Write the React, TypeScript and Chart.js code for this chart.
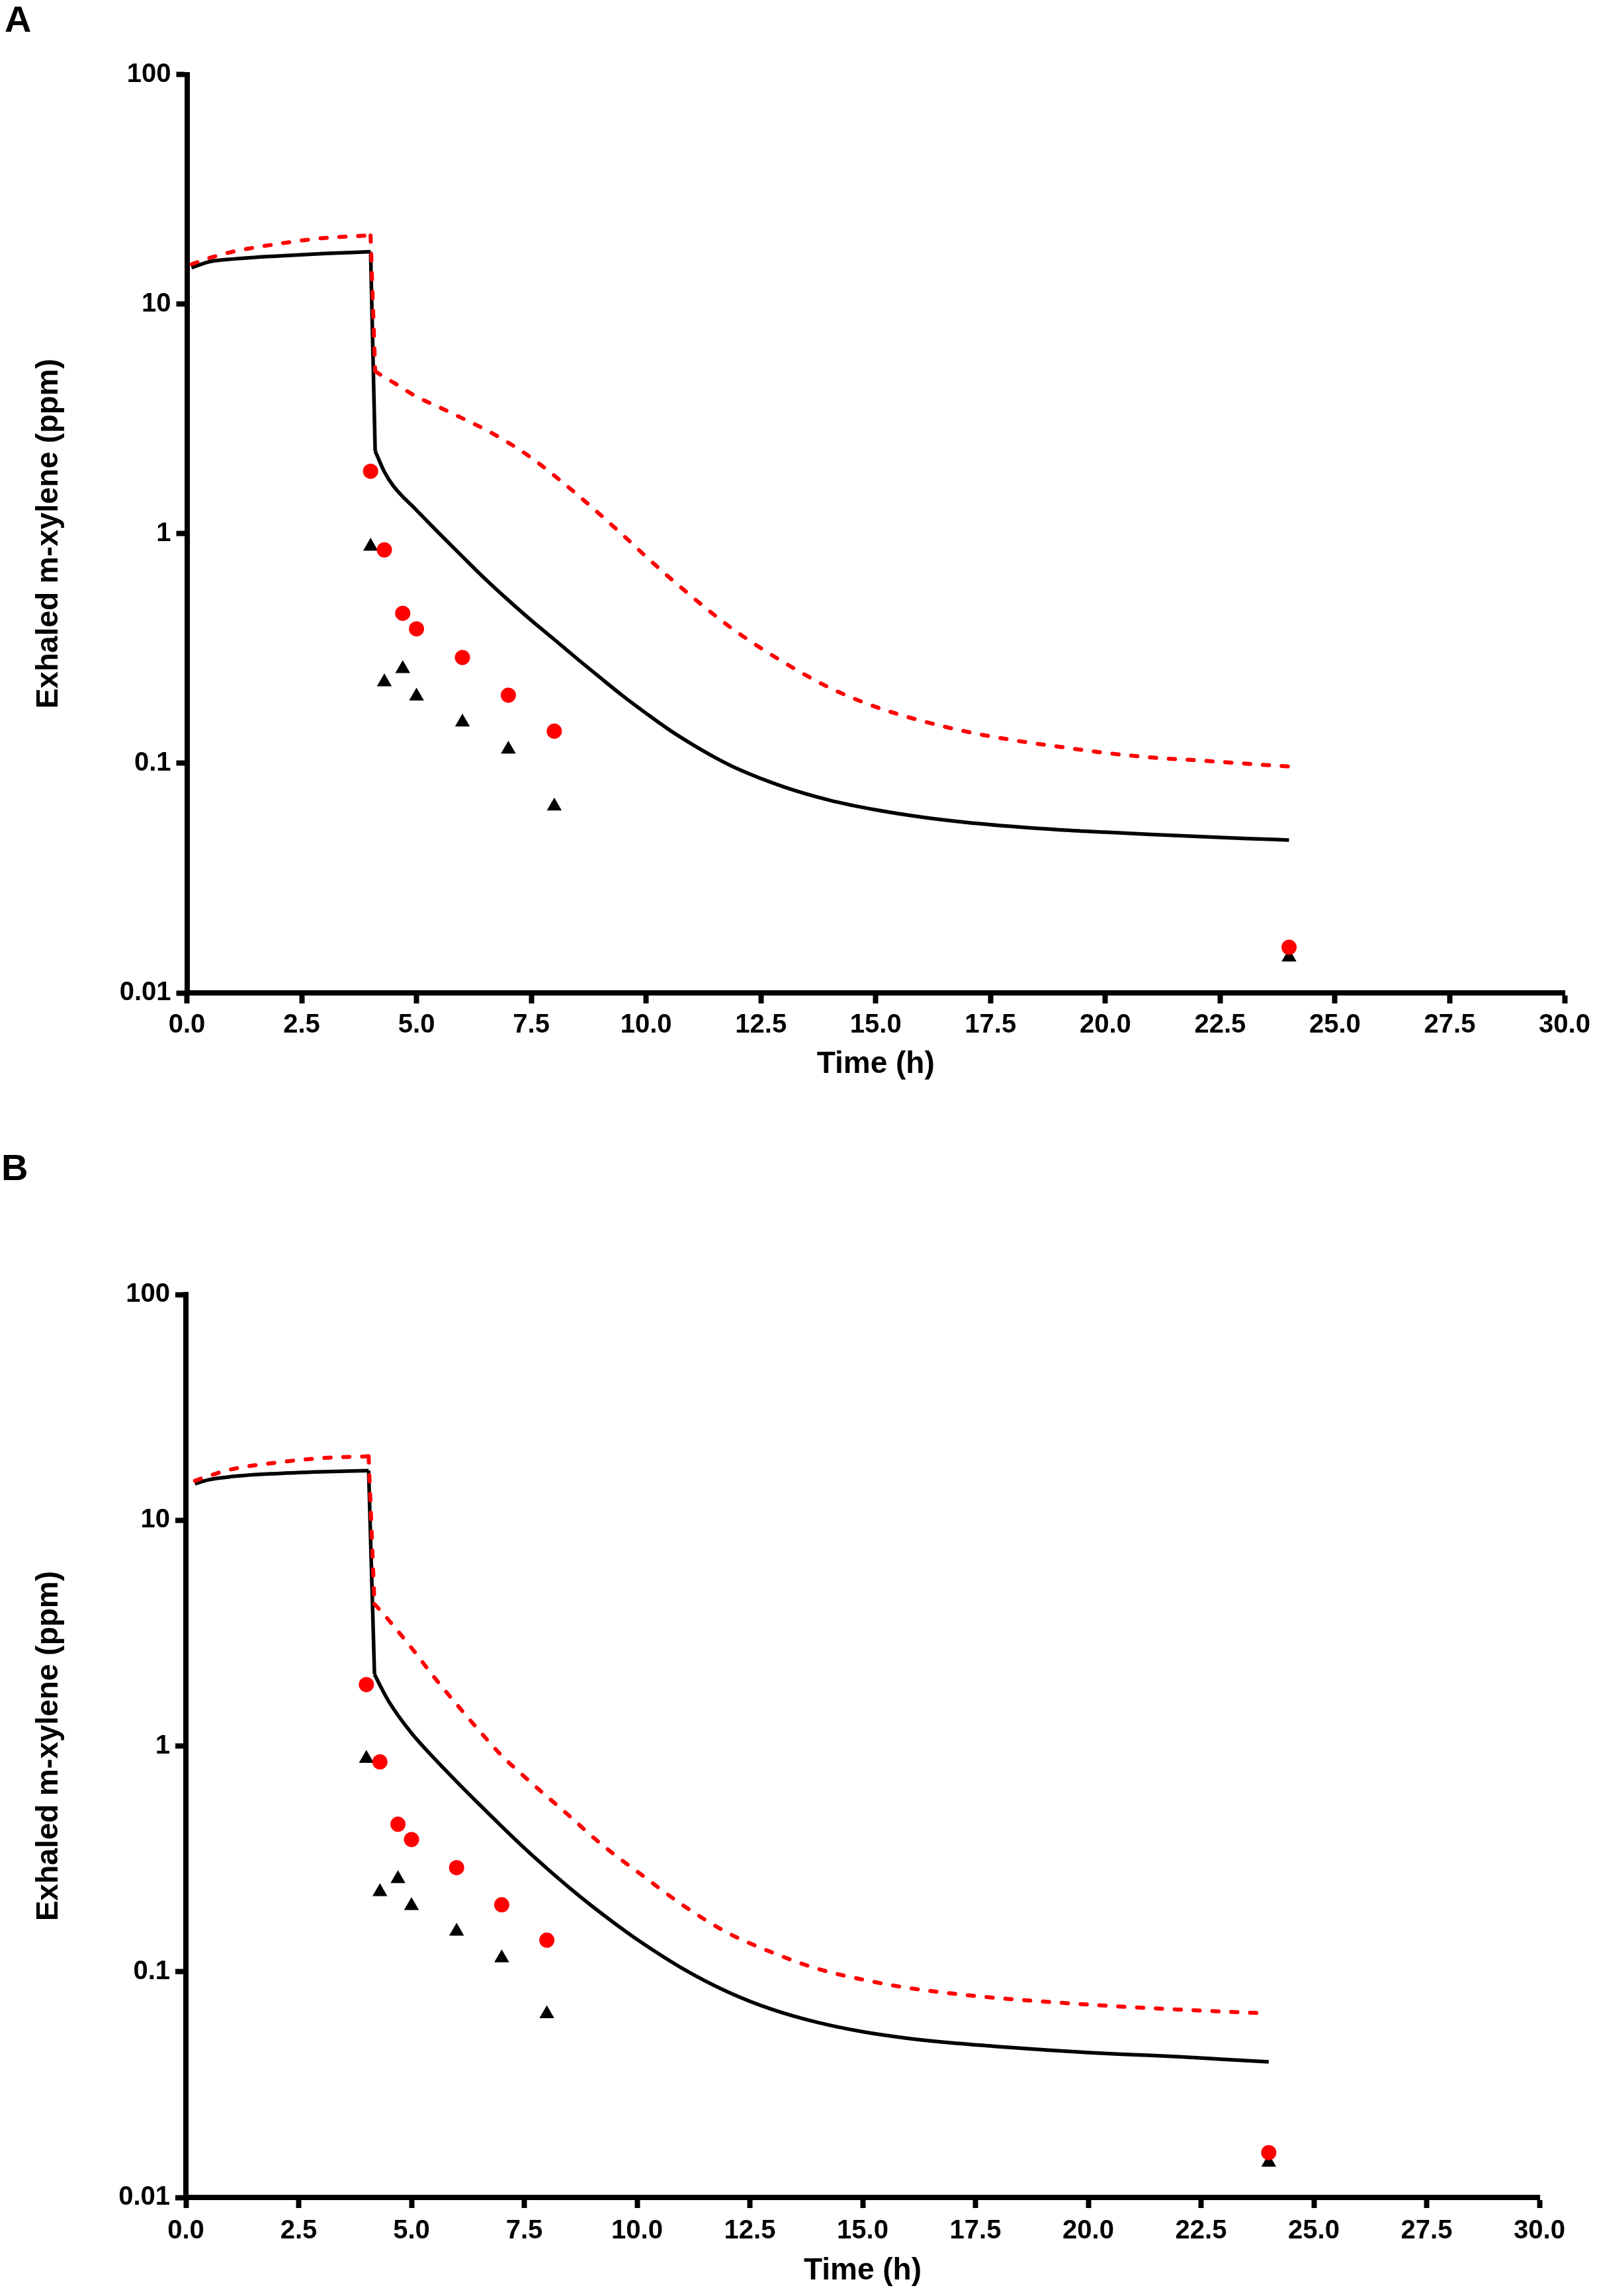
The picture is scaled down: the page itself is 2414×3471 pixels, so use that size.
import { useEffect, useRef } from 'react';
import { Chart, registerables } from 'chart.js';

Chart.register(...registerables);

const FONT = "'Liberation Sans', Arial, Helvetica, sans-serif";
const RED = '#ff0000';
const BLACK = '#000000';

// axis ticks
const Y_TICKS = [0.01, 0.1, 1, 10, 100];
const Y_TICK_LABELS = ['0.01', '0.1', '1', '10', '100'];
const X_TICKS = [0, 2.5, 5, 7.5, 10, 12.5, 15, 17.5, 20, 22.5, 25, 27.5, 30];
const X_TICK_LABELS = ['0.0', '2.5', '5.0', '7.5', '10.0', '12.5', '15.0', '17.5', '20.0', '22.5', '25.0', '27.5', '30.0'];

// observed data (same in both panels)
const obsTime = [4, 4.3, 4.7, 5, 6, 7, 8, 24];
const obsCircle = [1.87, 0.85, 0.45, 0.385, 0.289, 0.198, 0.138, 0.0158];
const obsTriangle = [0.88, 0.226, 0.258, 0.196, 0.151, 0.115, 0.065, 0.0143];

// index of the end of exposure (peak) in the simulated series; next point is the bottom of the drop
const PEAK_INDEX = 5;

// panel A simulations
const simTimeA = [0.1, 0.5, 1, 2, 3, 4, 4.1, 4.3, 4.5, 5, 5.5, 6, 6.5, 7, 7.5, 8, 8.5, 9, 9.5, 10, 10.5, 11, 11.5, 12, 13, 14, 15, 16, 17, 18, 19, 20, 21, 22, 23, 24];
const simBlackA = [14.4, 15.3, 15.7, 16.2, 16.6, 16.9, 2.29, 1.86, 1.61, 1.265, 1.0, 0.795, 0.634, 0.513, 0.419, 0.346, 0.285, 0.236, 0.196, 0.165, 0.14, 0.121, 0.106, 0.0944, 0.0789, 0.069, 0.0627, 0.0583, 0.0552, 0.053, 0.0513, 0.0501, 0.049, 0.048, 0.0471, 0.0463];
const simRedA = [14.9, 15.9, 16.9, 18.3, 19.4, 19.9, 5.1, 4.8, 4.55, 3.95, 3.55, 3.18, 2.84, 2.49, 2.14, 1.79, 1.48, 1.21, 0.984, 0.794, 0.646, 0.531, 0.44, 0.37, 0.275, 0.213, 0.176, 0.153, 0.137, 0.126, 0.118, 0.111, 0.106, 0.103, 0.0998, 0.0968];

// panel B simulations
const simTimeB = [0.2, 0.5, 1, 2, 3, 4.05, 4.18, 4.3, 4.5, 5, 5.5, 6, 6.5, 7, 7.5, 8, 8.5, 9, 9.5, 10, 11, 12, 13, 14, 15, 16, 17, 18, 19, 20, 21, 22, 23, 24];
const simBlackB = [14.5, 15.1, 15.6, 16.1, 16.4, 16.6, 2.08, 1.86, 1.57, 1.14, 0.883, 0.695, 0.552, 0.44, 0.353, 0.287, 0.2355, 0.1954, 0.164, 0.139, 0.1036, 0.0816, 0.068, 0.0596, 0.0542, 0.0507, 0.0483, 0.0466, 0.0451, 0.0438, 0.0429, 0.042, 0.0409, 0.0399];
const simRedB = [14.96, 15.7, 16.8, 18.0, 18.85, 19.2, 4.25, 4.0, 3.6, 2.72, 2.02, 1.53, 1.17, 0.906, 0.732, 0.598, 0.49, 0.398, 0.33, 0.278, 0.198, 0.149, 0.1216, 0.103, 0.0923, 0.0848, 0.08, 0.0764, 0.0738, 0.0715, 0.0696, 0.068, 0.0666, 0.0653];

const toXY = (xs: number[], ys: number[]) => xs.map((x, i) => ({ x, y: ys[i] }));

// one simulated curve = smooth exposure part, straight drop, smooth decay part
function curveDatasets(time: number[], values: number[], style: any) {
  const pts = toXY(time, values);
  const parts = [
    { data: pts.slice(0, PEAK_INDEX + 1), cubicInterpolationMode: 'monotone' },
    { data: pts.slice(PEAK_INDEX, PEAK_INDEX + 2), tension: 0 },
    { data: pts.slice(PEAK_INDEX + 1), cubicInterpolationMode: 'monotone' },
  ];
  return parts.map(p => ({ ...style, ...p, showLine: true, pointRadius: 0 }));
}

type PanelProps = {
  top: number;
  height: number;
  simTime: number[];
  simBlack: number[];
  simRed: number[];
  padTop: number;
  padRight: number;
  yWidth: number;
  xHeight: number;
  xTitlePad: number;
  xTickPad: number;
};

function Panel({ top, height, simTime, simBlack, simRed, padTop, padRight, yWidth, xHeight, xTitlePad, xTickPad }: PanelProps) {
  const canvasRef = useRef<HTMLCanvasElement>(null);

  useEffect(() => {
    if (!canvasRef.current) return;

    const redStyle = {
      label: 'Model (dashed)',
      borderColor: RED,
      borderWidth: 6,
      borderDash: [9.5, 19],
      borderCapStyle: 'round',
      borderJoinStyle: 'round',
    };
    const blackStyle = {
      label: 'Model (solid)',
      borderColor: BLACK,
      borderWidth: 5.5,
      borderJoinStyle: 'round',
    };

    const chart = new Chart(canvasRef.current, {
      type: 'scatter',
      data: {
        datasets: [
          {
            label: 'Observed (circle)',
            data: toXY(obsTime, obsCircle),
            pointStyle: 'circle',
            pointRadius: 11.5,
            pointBackgroundColor: RED,
            pointBorderWidth: 0,
            showLine: false,
          },
          {
            label: 'Observed (triangle)',
            data: toXY(obsTime, obsTriangle),
            pointStyle: 'triangle',
            pointRadius: 13,
            pointBackgroundColor: BLACK,
            pointBorderWidth: 0,
            showLine: false,
          },
          ...curveDatasets(simTime, simRed, redStyle),
          ...curveDatasets(simTime, simBlack, blackStyle),
        ] as any,
      },
      options: {
        animation: false,
        responsive: true,
        maintainAspectRatio: false,
        layout: { padding: { top: padTop, right: padRight, left: 0, bottom: 0 } },
        plugins: {
          legend: { display: false },
          title: { display: false },
          tooltip: { enabled: false },
        },
        scales: {
          x: {
            type: 'linear',
            min: 0,
            max: 30,
            afterBuildTicks: (scale: any) => {
              scale.ticks = X_TICKS.map(v => ({ value: v }));
            },
            afterFit: (scale: any) => {
              scale.height = xHeight;
            },
            grid: { drawOnChartArea: false, drawTicks: true, tickLength: 16, tickWidth: 8, tickColor: BLACK },
            border: { display: true, width: 8, color: BLACK },
            ticks: {
              autoSkip: false,
              maxRotation: 0,
              padding: xTickPad,
              color: BLACK,
              font: { family: FONT, size: 40, weight: 'bold' },
              callback: (value: any) => X_TICK_LABELS[X_TICKS.indexOf(Number(value))] ?? '',
            },
            title: {
              display: true,
              text: 'Time (h)',
              color: BLACK,
              font: { family: FONT, size: 46, weight: 'bold' },
              padding: { top: 0, bottom: xTitlePad },
            },
          },
          y: {
            type: 'logarithmic',
            min: 0.01,
            max: 100,
            afterBuildTicks: (scale: any) => {
              scale.ticks = Y_TICKS.map(v => ({ value: v }));
            },
            afterFit: (scale: any) => {
              scale.width = yWidth;
            },
            grid: { drawOnChartArea: false, drawTicks: true, tickLength: 16, tickWidth: 8, tickColor: BLACK },
            border: { display: true, width: 8, color: BLACK },
            ticks: {
              autoSkip: false,
              padding: 8,
              color: BLACK,
              font: { family: FONT, size: 40, weight: 'bold' },
              callback: (value: any) => Y_TICK_LABELS[Y_TICKS.indexOf(Number(value))] ?? '',
            },
            title: {
              display: true,
              text: 'Exhaled m-xylene (ppm)',
              color: BLACK,
              font: { family: FONT, size: 46, weight: 'bold' },
              padding: { top: 47, bottom: 0 },
            },
          },
        },
      },
    });

    return () => {
      chart.destroy();
    };
  }, [simTime, simBlack, simRed, padTop, padRight, yWidth, xHeight, xTitlePad, xTickPad]);

  return (
    <div style={{ position: 'absolute', left: 0, top, width: 2414, height }}>
      <canvas ref={canvasRef} />
    </div>
  );
}

const letterStyle: React.CSSProperties = {
  position: 'absolute',
  fontFamily: FONT,
  fontWeight: 'bold',
  fontSize: 56,
  lineHeight: 1,
  color: BLACK,
};

export default function App() {
  return (
    <div style={{ position: 'absolute', left: 0, top: 0, width: 2414, height: 3471, background: '#fff' }}>
      <Panel top={0} height={1700} simTime={simTimeA} simBlack={simBlackA} simRed={simRedA}
        padTop={112.5} padRight={49} yWidth={282.5} xHeight={199} xTitlePad={63} xTickPad={9} />
      <Panel top={1700} height={1771} simTime={simTimeB} simBlack={simBlackB} simRed={simRedB}
        padTop={257} padRight={87} yWidth={281} xHeight={149} xTitlePad={10} xTickPad={11} />
      <div style={{ ...letterStyle, left: 7, top: 1 }}>A</div>
      <div style={{ ...letterStyle, left: 2, top: 1737 }}>B</div>
    </div>
  );
}
